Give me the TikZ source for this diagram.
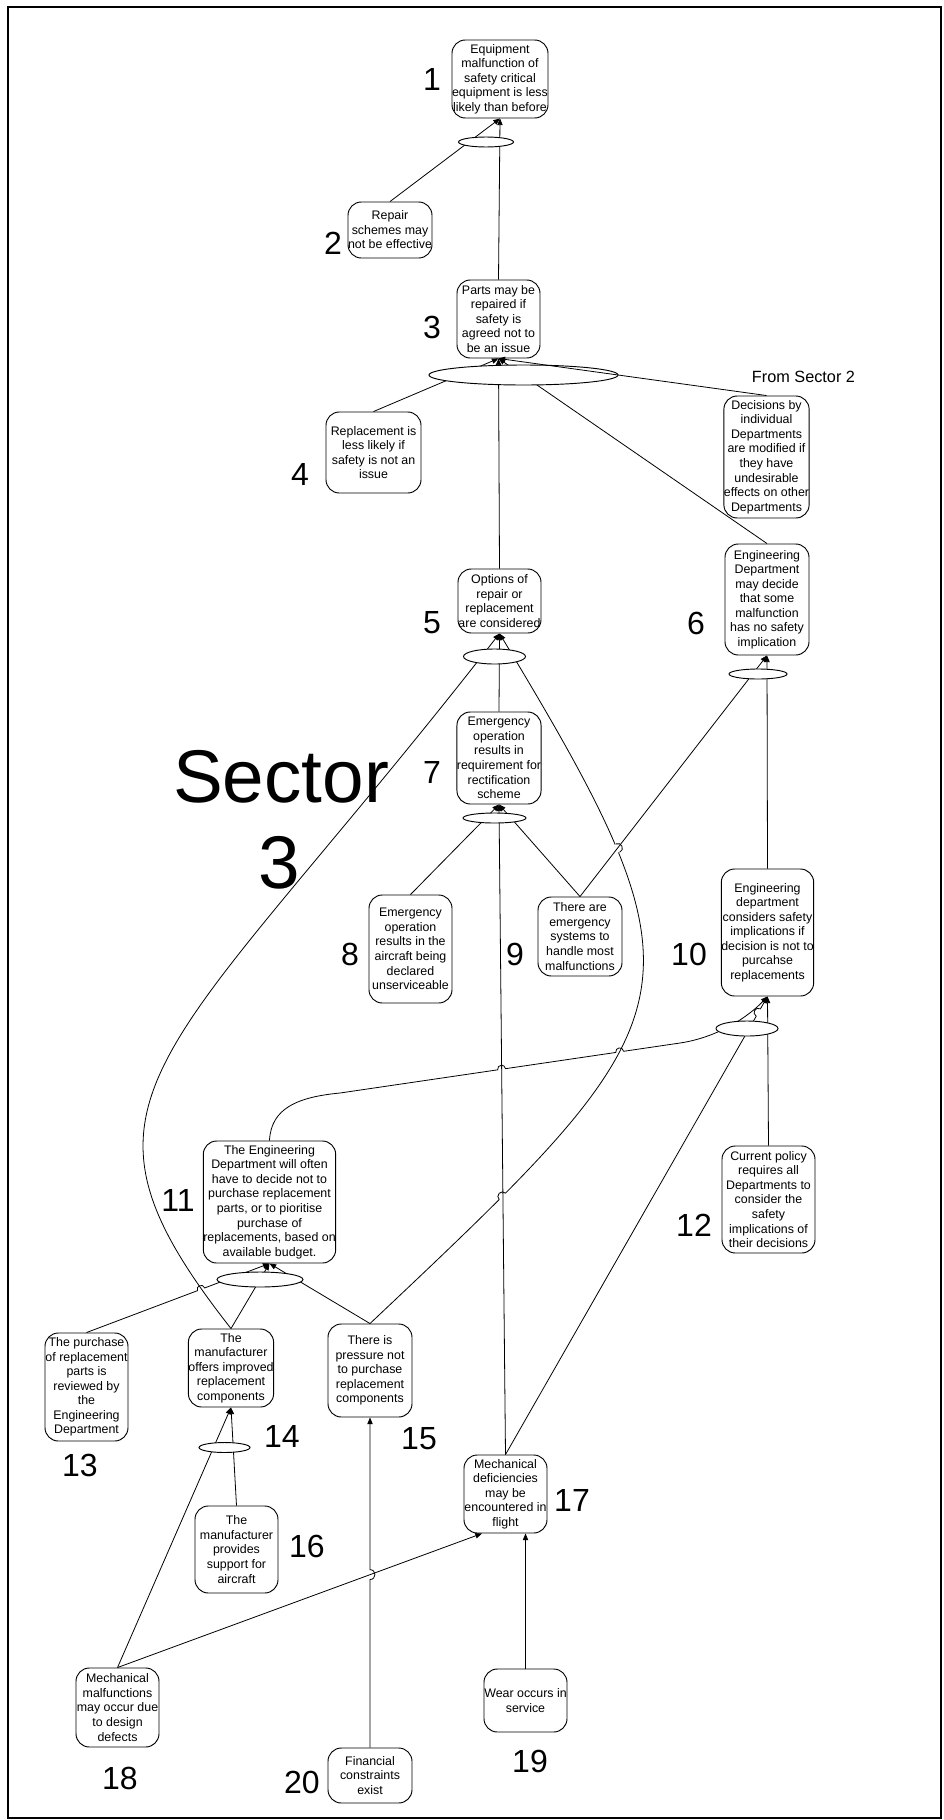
\documentclass[tikz,border=0pt]{standalone}
\usepackage{fontspec}
\setmainfont{Liberation Sans}
\usetikzlibrary{arrows.meta,shapes.geometric,calc}
\begin{document}
\begin{tikzpicture}[x=0.75pt,y=-0.75pt,
  box/.style={draw,rounded corners=10pt,line width=0.7pt,inner sep=0pt,align=center,
    font=\fontsize{9.3}{10.9}\selectfont},
  sz/.style 2 args={minimum width=#1*0.75pt,minimum height=#2*0.75pt},
  andnode/.style={draw,ellipse,fill=white,inner sep=0pt,line width=0.7pt},
  num/.style={inner sep=0pt,font=\fontsize{24}{28}\selectfont},
  link/.style={line width=0.6pt},
  cause/.style={link,-{Triangle[length=5pt,width=4pt]}},
  hop/.style={bend left=90,looseness=1.7},
  hopr/.style={bend right=90,looseness=1.7},
]
\useasboundingbox (0,0) rectangle (943,1820);
\draw[line width=1.5pt] (8,7) rectangle (940.5,1817.5);

% ---- statements ----
\node[box,sz={96}{78}] (n1) at (500,79) {Equipment\\malfunction of\\safety critical\\equipment is less\\likely than before};
\node[box,sz={84}{56}] (n2) at (390,230) {Repair\\schemes may\\not be effective};
\node[box,sz={83}{78}] (n3) at (498.5,319) {Parts may be\\repaired if\\safety is\\agreed not to\\be an issue};
\node[box,sz={95}{81}] (n4) at (373.5,452.5) {Replacement is\\less likely if\\safety is not an\\issue};
\node[box,sz={83}{122}] (fs2) at (766.5,457) {Decisions by\\individual\\Departments\\are modified if\\they have\\undesirable\\effects on other\\Departments};
\node[box,sz={83}{64}] (n5) at (499.5,601) {Options of\\repair or\\replacement\\are considered};
\node[box,sz={84}{111}] (n6) at (767,599.5) {Engineering\\Department\\may decide\\that some\\malfunction\\has no safety\\implication};
\node[box,sz={84}{92}] (n7) at (499,758) {Emergency\\operation\\results in\\requirement for\\rectification\\scheme};
\node[box,sz={83}{108}] (n8) at (410.5,949) {Emergency\\operation\\results in the\\aircraft being\\declared\\unserviceable};
\node[box,sz={84}{79}] (n9) at (580,936.5) {There are\\emergency\\systems to\\handle most\\malfunctions};
\node[box,sz={91}{127}] (n10) at (767.5,932.5) {Engineering\\department\\considers safety\\implications if\\decision is not to\\purcahse\\replacements};
\node[box,sz={131}{122}] (n11) at (269.5,1202) {The Engineering\\Department will often\\have to decide not to\\purchase replacement\\parts, or to pioritise\\purchase of\\replacements, based on\\available budget.};
\node[box,sz={93}{107}] (n12) at (768.5,1199.5) {Current policy\\requires all\\Departments to\\consider the\\safety\\implications of\\their decisions};
\node[box,sz={83}{108}] (n13) at (86.5,1387) {The purchase\\of replacement\\parts is\\reviewed by\\the\\Engineering\\Department};
\node[box,sz={84}{78}] (n14) at (231,1368) {The\\manufacturer\\offers improved\\replacement\\components};
\node[box,sz={84}{93}] (n15) at (370,1370.5) {There is\\pressure not\\to purchase\\replacement\\components};
\node[box,sz={83}{87}] (n16) at (236.5,1549.5) {The\\manufacturer\\provides\\support for\\aircraft};
\node[box,sz={83}{78}] (n17) at (505.5,1494) {Mechanical\\deficiencies\\may be\\encountered in\\flight};
\node[box,sz={83}{79}] (n18) at (117.5,1707.5) {Mechanical\\malfunctions\\may occur due\\to design\\defects};
\node[box,sz={83}{63}] (n19) at (525.5,1700.5) {Wear occurs in\\service};
\node[box,sz={84}{55}] (n20) at (370,1775.5) {Financial\\constraints\\exist};

% ---- numbers ----
\node[num] (l1) at (432,79) {1};
\node[num] (l2) at (333,243) {2};
\node[num] (l3) at (432,327) {3};
\node[num] (l4) at (300,474) {4};
\node[num] (l5) at (432,623) {5};
\node[num] (l6) at (696,623) {6};
\node[num] (l7) at (432,772) {7};
\node[num] (l8) at (350,954) {8};
\node[num] (l9) at (515,954) {9};
\node[num] (l10) at (689,954) {10};
\node[num] (l11) at (178,1200) {11};
\node[num] (l12) at (694,1225) {12};
\node[num] (l13) at (80,1465) {13};
\node[num] (l14) at (282,1436) {14};
\node[num] (l15) at (419,1439) {15};
\node[num] (l16) at (307,1546) {16};
\node[num] (l17) at (572,1500) {17};
\node[num] (l18) at (120,1778) {18};
\node[num] (l19) at (530,1761) {19};
\node[num] (l20) at (302,1782) {20};

\node[inner sep=0pt,anchor=base,font=\fontsize{56}{64}\selectfont] (sec) at (281,802) {Sector};
\node[inner sep=0pt,anchor=base,font=\fontsize{56}{64}\selectfont] (secn) at (279,888) {3};
\node[inner sep=0pt,anchor=base,font=\fontsize{12.2}{14}\selectfont] (from) at (803.5,382) {From Sector 2};

% ---- long curves into n5 ----
\draw[cause] (n14.north) .. controls (46,1093) and (161.5,1067.5) .. (n5.south);
\draw[cause] (n15.north) .. controls (697,1015) and (717,994) .. (n5.south);

% line jumps on the right curve
\coordinate (hc) at (502.5,1196.5);
\coordinate (hd) at (617.8,848.1);
\fill[white] (hc) circle[radius=4.6];
\fill[white] (hd) circle[radius=4.6];
\draw[link] ($(hc)+(-3.24,3.27)$) to[hop] ($(hc)+(3.24,-3.27)$);
\draw[link] ($(hd)+(1.73,4.26)$) to[hopr] ($(hd)+(-1.73,-4.26)$);

% ---- straight links ----
\draw[cause] (n2.north) -- (n1.south);
\draw[cause] (n3.north) -- (n1.south);
\draw[cause] (n4.north) -- (n3.south);
\draw[cause] (n5.north) -- (n3.south);
\draw[cause] (n6.north) -- (n3.south);
\draw[cause] (n7.north) -- (n5.south);
\draw[cause] (n9.north) -- (n6.south);
\draw[cause] (n10.north) -- (n6.south);
\draw[cause] (n8.north) -- (n7.south);
\draw[cause] (n9.north) -- (n7.south);
\draw[cause] (n17.north) -- (n7.south);

% n11 to n10, with two jumps
\coordinate (s1) at (340,1093);
\coordinate (s2) at (680,1043);
\draw[cause] (n11.north) .. controls (271,1108) and (298,1097) .. (s1)
  -- ($(s1)!0.4637!(s2)$) to[hop] ($(s1)!0.4869!(s2)$)
  -- ($(s1)!0.811!(s2)$) to[hop] ($(s1)!0.8342!(s2)$)
  -- (s2) .. controls (720,1037) and (750,1015) .. (n10.south);
\draw[cause] (n12.north) -- (n10.south);
\draw[cause] (n17.north) -- ($(n17.north)!0.957!(n10.south)$) to[hop] ($(n17.north)!0.973!(n10.south)$) -- (n10.south);

\draw[cause] (n13.north) -- ($(n13.north)!0.606!(n11.south)$) to[hop] ($(n13.north)!0.646!(n11.south)$) -- (n11.south);
\draw[cause] (n14.north) -- (n11.south);
\draw[cause] (n15.north) -- (n11.south);
\draw[cause] (n16.north) -- (n14.south);
\draw[cause] (n18.north) -- (n14.south);
\draw[cause] (n20.north) -- ($(n20.north)!0.509!(n15.south)$) to[hopr] ($(n20.north)!0.539!(n15.south)$) -- (n15.south);
\draw[cause] (n18.north) -- ($(n17.south)+(-23.5,0)$);
\draw[cause] (n19.north) -- ($(n17.south)+(20,0)$);

% ---- AND junctions ----
\node[andnode,sz={55}{10}] (e1) at (486,142) {};
\node[andnode,sz={189}{20}] (e3) at (523.5,375) {};
\node[andnode,sz={62}{15}] (e5) at (494.5,656.5) {};
\node[andnode,sz={58}{10}] (e6) at (758,674) {};
\node[andnode,sz={63}{10}] (e7) at (494.5,818) {};
\node[andnode,sz={62}{15}] (e10) at (747,1028.5) {};
\node[andnode,sz={86}{15}] (e11) at (260,1279.5) {};
\node[andnode,sz={51}{10}] (e14) at (224.5,1447.5) {};

% link from the other sector, on top of the junction
\draw[cause] (fs2.north) -- (n3.south);
\end{tikzpicture}
\end{document}
